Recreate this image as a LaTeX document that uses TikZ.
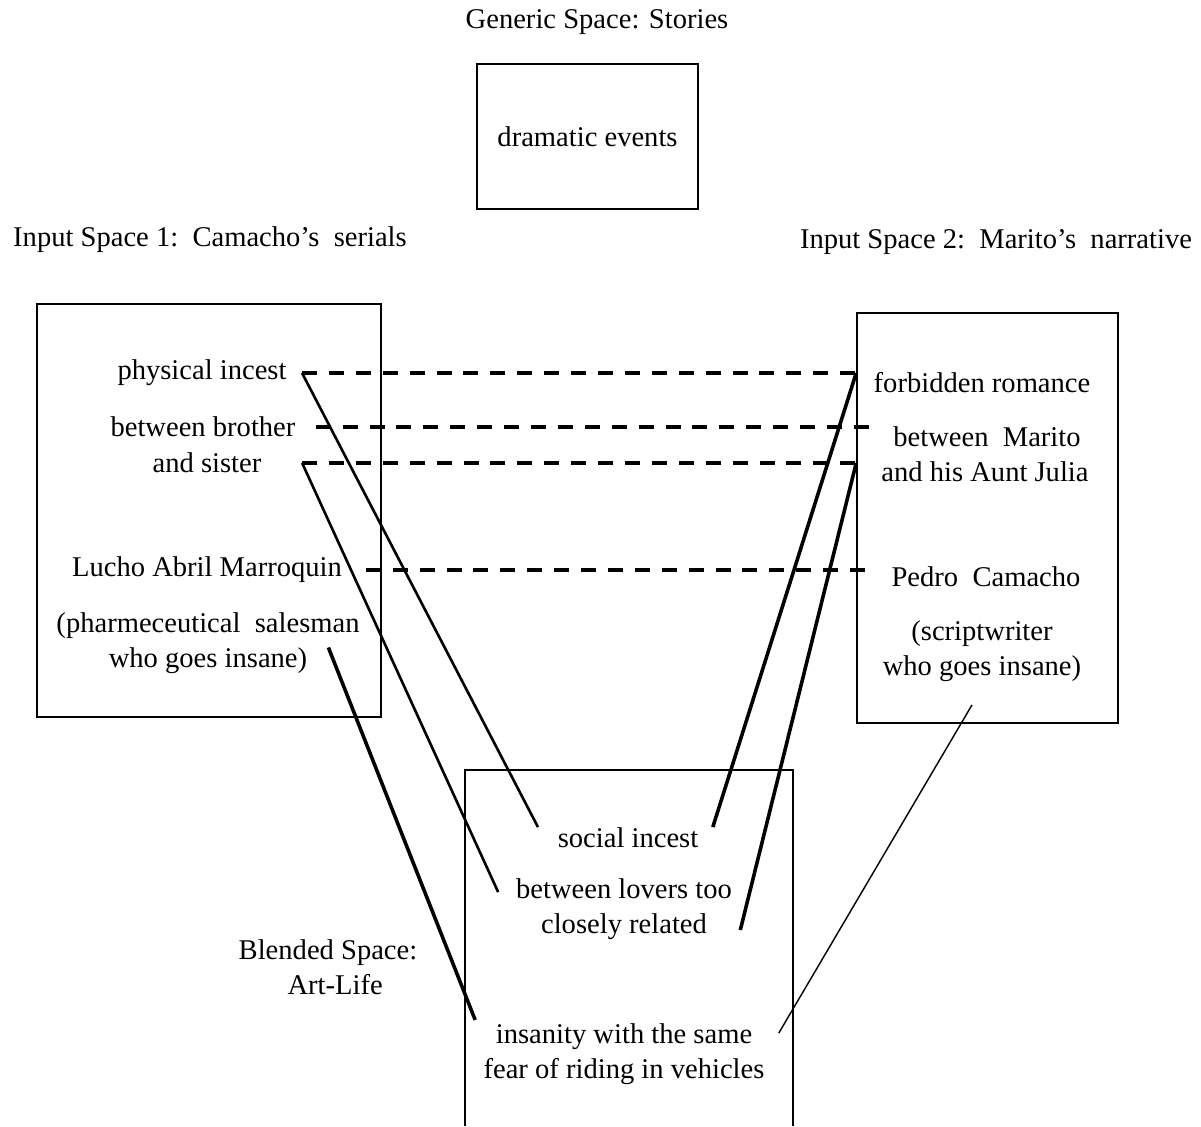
\documentclass[tikz,border=0pt]{standalone}
\usepackage{fontspec}
\setmainfont{Liberation Serif}
\usetikzlibrary{calc}

\begin{document}
\begin{tikzpicture}[x=0.42pt,y=-0.42pt,
  every node/.style={font=\fontsize{12}{14.7}\selectfont, align=center},
  spacebox/.style={draw, line width=0.7pt},
  counterpart/.style={line width=1.7pt, dash pattern=on 6.3pt off 5pt},
  projthin/.style={line width=1.1pt},
  projthick/.style={line width=1.5pt},
  projfine/.style={line width=0.6pt}]

\useasboundingbox (0,0) rectangle (1201,1126);

% space titles
\node (gentitle) at (597,22) {Generic Space: Stories};
\node (in1title) at (210,240) {Input Space 1:\ \ Camacho’s\ \ serials};
\node (in2title) at (996,242) {Input Space 2:\ \ Marito’s\ \ narrative};
\node (blendtitle) at (328,967) {Blended Space:\\\ \ Art-Life};

% frames
\node[spacebox, minimum width=92.8pt, minimum height=60.9pt] (genbox) at (587.5,136.5) {dramatic events};
\node[spacebox, minimum width=144.5pt, minimum height=173.5pt] (lbox) at (209,510.5) {};
\node[spacebox, minimum width=109.6pt, minimum height=172.2pt] (rbox) at (987.5,518) {};
\draw[spacebox] (465,1126) |- (793,770) -- (793,1126);

% input space 1
\node (physinc) at (202,373) {physical incest};
\node (betbro) at (203,427) {between brother};
\node (sister) at (207,463) {and sister};
\node (lucho) at (207,570) {Lucho Abril Marroquin};
\node (pharm) at (208,643) {(pharmeceutical\ \ salesman\\who goes insane)};

% input space 2
\node (forbid) at (982,383) {forbidden romance};
\node (betmar) at (987,437) {between\ \ Marito};
\node (julia) at (985,472) {and his Aunt Julia};
\node (pedro) at (986,577) {Pedro\ \ Camacho};
\node (script) at (982,651) {(scriptwriter\\who goes insane)};

% blend
\node (socinc) at (628,838) {social incest};
\node (lovers) at (624,909) {between lovers too\\closely related};
\node (insan) at (624,1054) {insanity with the same\\fear of riding in vehicles};

% cross-space mappings
\draw[counterpart] ([xshift=3pt]physinc.east) -- (physinc.east -| rbox.west);
\draw[counterpart] ([xshift=5pt]betbro.east) -- ($(betbro.east -| rbox.west)+(5.5pt,0)$);
\draw[counterpart] ([xshift=13.6pt]sister.east) -- (sister.east -| rbox.west);
\draw[counterpart] ([xshift=6.5pt]lucho.east) -- ($(lucho.east -| rbox.west)+(4.2pt,0)$);

% projections into the blend
\draw[projthin] ([xshift=3pt]physinc.east) -- ([shift={(-4.8pt,4.6pt)}]socinc.west);
\draw[projthin] ([xshift=13.6pt]sister.east) -- ([shift={(-4pt,7.1pt)}]lovers.west);
\draw[projthick] ([shift={(-16.6pt,-1.9pt)}]pharm.east) -- ([yshift=14.3pt]insan.west);
\draw[projthick] (physinc.east -| rbox.west) -- ([shift={(2.6pt,4.6pt)}]socinc.east);
\draw[projthick] (sister.east -| rbox.west) -- ([yshift=-8.8pt]lovers.east);
\draw[projfine] ([shift={(-4.2pt,-6.3pt)}]script.south) -- ([shift={(2.5pt,8.8pt)}]insan.east);

\end{tikzpicture}
\end{document}
